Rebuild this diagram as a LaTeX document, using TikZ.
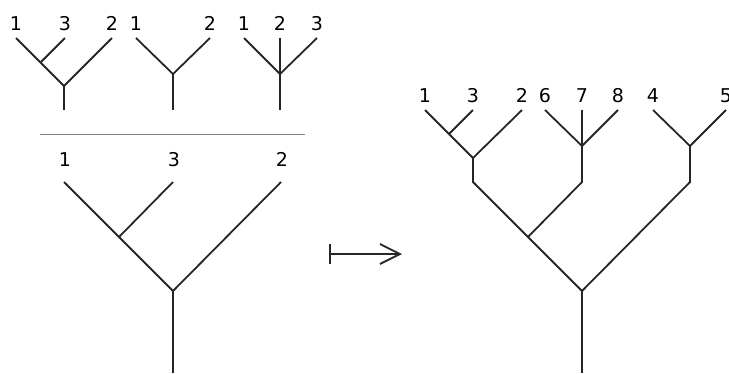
\documentclass[tikz,border=0pt]{standalone}
\usepackage{fontspec}
\setmainfont{DejaVu Sans}
\usetikzlibrary{arrows.meta}
\begin{document}
\begin{tikzpicture}[x=1pt,y=-1pt,
  edge/.style={draw=black!85,line width=1.8pt},
  lab/.style={inner sep=0pt,anchor=base,font=\fontsize{19}{19}\selectfont,text=black},
  rule/.style={draw=black!50,line width=1pt}]
\useasboundingbox (0,0) rectangle (729,373);
\clip (0,0) rectangle (729,373);
% ---------- top tree 1 ----------
\foreach \n/\x/\t in {a1/16/1,a3/65/3,a2/112/2}{
  \coordinate (\n) at (\x,38);
  \node[lab] (\n l) at (\x,30.5) {\t};}
\coordinate (aI) at (41,62);
\coordinate (aR) at (64,86);
\coordinate (aS) at (64,110);
\draw[edge] (a1) -- (aR) -- (a2);
\draw[edge] (a3) -- (aI);
\draw[edge] (aR) -- (aS);
% ---------- top tree 2 ----------
\foreach \n/\x/\t in {b1/136/1,b2/210/2}{
  \coordinate (\n) at (\x,38);
  \node[lab] (\n l) at (\x,30.5) {\t};}
\coordinate (bR) at (173,74);
\coordinate (bS) at (173,110);
\draw[edge] (b1) -- (bR) -- (b2);
\draw[edge] (bR) -- (bS);
% ---------- top tree 3 ----------
\foreach \n/\x/\t in {c1/244/1,c2/280/2,c3/317/3}{
  \coordinate (\n) at (\x,38);
  \node[lab] (\n l) at (\x,30.5) {\t};}
\coordinate (cR) at (280,74);
\coordinate (cS) at (280,110);
\draw[edge] (c1) -- (cR) -- (c3);
\draw[edge] (c2) -- (cR) -- (cS);
% ---------- fraction rule ----------
\coordinate (rL) at (40,134);
\coordinate (rR) at (305,134);
\draw[rule] (rL) -- (rR);
% ---------- bottom-left tree ----------
\foreach \n/\x/\t in {d1/64/1,d3/173/3,d2/281/2}{
  \coordinate (\n) at (\x,182);
  \node[lab] (\n l) at (\x+1,166) {\t};}
\coordinate (dI) at (119,237);
\coordinate (dR) at (173,291);
\coordinate (dS) at (173,373);
\draw[edge] (d1) -- (dR) -- (d2);
\draw[edge] (d3) -- (dI);
\draw[edge] (dR) -- (dS);
% ---------- mapsto arrow ----------
\coordinate (mA) at (329,254);
\coordinate (mB) at (402,254);
\draw[edge,{Bar[width=20pt,line width=1.8pt]}-{Straight Barb[length=20pt,width=20pt,line width=1.8pt]}] (mA) -- (mB);
% ---------- right tree ----------
\foreach \n/\x/\t in {e1/425/1,e3/473/3,e2/522/2,e6/545/6,e7/582/7,e8/618/8,e4/653/4,e5/726/5}{
  \coordinate (\n) at (\x,110);
  \node[lab] (\n l) at (\x,102) {\t};}
\coordinate (eI) at (449,134);
\coordinate (eA) at (473,158);
\coordinate (eA2) at (473,182);
\coordinate (eB) at (582,146);
\coordinate (eB2) at (582,182);
\coordinate (eC) at (690,146);
\coordinate (eC2) at (690,182);
\coordinate (eD) at (528,237);
\coordinate (eR) at (582,291);
\coordinate (eS) at (582,373);
\draw[edge] (e1) -- (eA) -- (e2);
\draw[edge] (e3) -- (eI);
\draw[edge] (e6) -- (eB) -- (e8);
\draw[edge] (e7) -- (eB);
\draw[edge] (e4) -- (eC) -- (e5);
\draw[edge] (eA) -- (eA2) -- (eR) -- (eC2) -- (eC);
\draw[edge] (eB) -- (eB2) -- (eD);
\draw[edge] (eR) -- (eS);
\end{tikzpicture}
\end{document}
